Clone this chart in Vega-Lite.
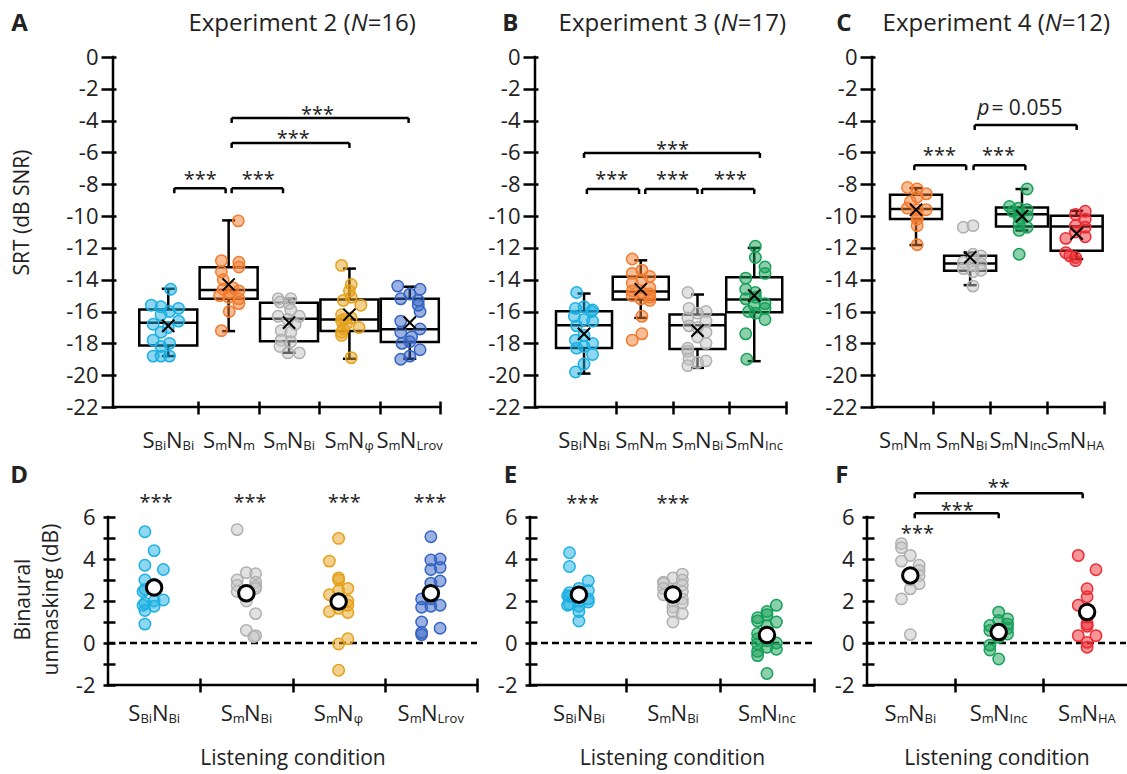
{
"$schema":"https://vega.github.io/schema/vega-lite/v6.json",
"background":"white",
"padding":{"left":10,"top":12,"right":0,"bottom":12},
"config":{"font":"Open Sans","view":{"stroke":null}},
"datasets":{
"one":[{}],
"box":[
{"p":"A","k":"SBiNBi","x":1,"lo":-18.8,"q1":-18.13,"md":-16.7,"q3":-15.87,"hi":-14.57,"mn":-16.9},
{"p":"A","k":"SmNm","x":2,"lo":-17.23,"q1":-15.2,"md":-14.65,"q3":-13.21,"hi":-10.27,"mn":-14.3},
{"p":"A","k":"SmNBi","x":3,"lo":-18.59,"q1":-17.86,"md":-16.45,"q3":-15.45,"hi":-15.2,"mn":-16.7},
{"p":"A","k":"SmNphi","x":4,"lo":-18.97,"q1":-17.23,"md":-16.5,"q3":-15.24,"hi":-13.3,"mn":-16.2},
{"p":"A","k":"SmNLrov","x":5,"lo":-18.97,"q1":-17.92,"md":-17.12,"q3":-15.2,"hi":-14.44,"mn":-16.7},
{"p":"B","k":"SBiNBi","x":1,"lo":-19.9,"q1":-18.29,"md":-16.86,"q3":-15.98,"hi":-14.87,"mn":-17.4},
{"p":"B","k":"SmNm","x":2,"lo":-16.4,"q1":-15.25,"md":-14.74,"q3":-13.82,"hi":-12.78,"mn":-14.6},
{"p":"B","k":"SmNBi","x":3,"lo":-19.54,"q1":-18.35,"md":-16.86,"q3":-16.19,"hi":-14.93,"mn":-17.2},
{"p":"B","k":"SmNInc","x":4,"lo":-19.12,"q1":-16.04,"md":-15.25,"q3":-13.84,"hi":-12.0,"mn":-15.0},
{"p":"C","k":"SmNm","x":1.2,"lo":-11.82,"q1":-10.19,"md":-9.56,"q3":-8.66,"hi":-8.24,"mn":-9.6},
{"p":"C","k":"SmNBi","x":2.15,"lo":-14.34,"q1":-13.44,"md":-12.98,"q3":-12.5,"hi":-12.3,"mn":-12.6},
{"p":"C","k":"SmNInc","x":3.06,"lo":-10.9,"q1":-10.65,"md":-9.88,"q3":-9.46,"hi":-8.3,"mn":-10.0},
{"p":"C","k":"SmNHA","x":4.02,"lo":-12.7,"q1":-12.18,"md":-10.65,"q3":-9.98,"hi":-9.67,"mn":-11.1}
],
"pts":[
{"p":"A","k":"SBiNBi","x":1.04,"v":-14.6},{"p":"A","k":"SBiNBi","x":0.72,"v":-15.6},{"p":"A","k":"SBiNBi","x":0.88,"v":-15.7},{"p":"A","k":"SBiNBi","x":1.17,"v":-15.8},{"p":"A","k":"SBiNBi","x":1.02,"v":-16.0},{"p":"A","k":"SBiNBi","x":0.88,"v":-16.2},{"p":"A","k":"SBiNBi","x":1.17,"v":-16.6},{"p":"A","k":"SBiNBi","x":0.75,"v":-16.8},{"p":"A","k":"SBiNBi","x":1.0,"v":-17.0},{"p":"A","k":"SBiNBi","x":0.88,"v":-17.3},{"p":"A","k":"SBiNBi","x":0.75,"v":-17.8},{"p":"A","k":"SBiNBi","x":1.02,"v":-18.0},{"p":"A","k":"SBiNBi","x":0.88,"v":-18.2},{"p":"A","k":"SBiNBi","x":0.75,"v":-18.8},{"p":"A","k":"SBiNBi","x":0.88,"v":-18.8},{"p":"A","k":"SBiNBi","x":1.02,"v":-18.8},
{"p":"A","k":"SmNm","x":2.16,"v":-10.3},{"p":"A","k":"SmNm","x":1.88,"v":-12.8},{"p":"A","k":"SmNm","x":2.17,"v":-12.9},{"p":"A","k":"SmNm","x":2.17,"v":-13.2},{"p":"A","k":"SmNm","x":1.88,"v":-13.5},{"p":"A","k":"SmNm","x":1.91,"v":-14.0},{"p":"A","k":"SmNm","x":2.07,"v":-14.5},{"p":"A","k":"SmNm","x":1.91,"v":-14.6},{"p":"A","k":"SmNm","x":2.17,"v":-14.7},{"p":"A","k":"SmNm","x":2.01,"v":-14.8},{"p":"A","k":"SmNm","x":1.85,"v":-15.0},{"p":"A","k":"SmNm","x":2.0,"v":-15.1},{"p":"A","k":"SmNm","x":2.17,"v":-15.2},{"p":"A","k":"SmNm","x":2.17,"v":-15.5},{"p":"A","k":"SmNm","x":2.01,"v":-16.0},{"p":"A","k":"SmNm","x":1.88,"v":-17.2},
{"p":"A","k":"SmNBi","x":2.82,"v":-15.2},{"p":"A","k":"SmNBi","x":3.03,"v":-15.2},{"p":"A","k":"SmNBi","x":2.85,"v":-15.4},{"p":"A","k":"SmNBi","x":3.0,"v":-15.5},{"p":"A","k":"SmNBi","x":3.03,"v":-15.9},{"p":"A","k":"SmNBi","x":2.82,"v":-16.3},{"p":"A","k":"SmNBi","x":3.17,"v":-16.3},{"p":"A","k":"SmNBi","x":2.98,"v":-16.5},{"p":"A","k":"SmNBi","x":3.1,"v":-16.8},{"p":"A","k":"SmNBi","x":2.87,"v":-17.2},{"p":"A","k":"SmNBi","x":3.03,"v":-17.3},{"p":"A","k":"SmNBi","x":2.87,"v":-17.8},{"p":"A","k":"SmNBi","x":3.03,"v":-17.9},{"p":"A","k":"SmNBi","x":2.85,"v":-18.2},{"p":"A","k":"SmNBi","x":2.98,"v":-18.6},{"p":"A","k":"SmNBi","x":3.17,"v":-18.6},
{"p":"A","k":"SmNphi","x":3.87,"v":-13.1},{"p":"A","k":"SmNphi","x":4.03,"v":-14.3},{"p":"A","k":"SmNphi","x":4.0,"v":-14.7},{"p":"A","k":"SmNphi","x":4.03,"v":-15.1},{"p":"A","k":"SmNphi","x":3.9,"v":-15.3},{"p":"A","k":"SmNphi","x":4.19,"v":-15.6},{"p":"A","k":"SmNphi","x":3.87,"v":-16.2},{"p":"A","k":"SmNphi","x":4.03,"v":-16.4},{"p":"A","k":"SmNphi","x":3.9,"v":-16.5},{"p":"A","k":"SmNphi","x":3.87,"v":-16.6},{"p":"A","k":"SmNphi","x":3.95,"v":-16.8},{"p":"A","k":"SmNphi","x":4.16,"v":-17.0},{"p":"A","k":"SmNphi","x":3.9,"v":-17.1},{"p":"A","k":"SmNphi","x":3.87,"v":-17.3},{"p":"A","k":"SmNphi","x":3.87,"v":-17.5},{"p":"A","k":"SmNphi","x":4.03,"v":-18.9},
{"p":"A","k":"SmNLrov","x":4.8,"v":-14.4},{"p":"A","k":"SmNLrov","x":5.17,"v":-14.6},{"p":"A","k":"SmNLrov","x":5.0,"v":-14.9},{"p":"A","k":"SmNLrov","x":4.85,"v":-15.2},{"p":"A","k":"SmNLrov","x":5.14,"v":-15.3},{"p":"A","k":"SmNLrov","x":5.14,"v":-15.6},{"p":"A","k":"SmNLrov","x":5.17,"v":-16.0},{"p":"A","k":"SmNLrov","x":4.85,"v":-16.6},{"p":"A","k":"SmNLrov","x":5.17,"v":-17.1},{"p":"A","k":"SmNLrov","x":4.85,"v":-17.3},{"p":"A","k":"SmNLrov","x":5.03,"v":-17.6},{"p":"A","k":"SmNLrov","x":5.0,"v":-17.9},{"p":"A","k":"SmNLrov","x":4.87,"v":-18.0},{"p":"A","k":"SmNLrov","x":5.17,"v":-18.4},{"p":"A","k":"SmNLrov","x":5.0,"v":-18.8},{"p":"A","k":"SmNLrov","x":4.85,"v":-19.0},
{"p":"B","k":"SBiNBi","x":0.87,"v":-14.8},{"p":"B","k":"SBiNBi","x":1.0,"v":-15.7},{"p":"B","k":"SBiNBi","x":0.85,"v":-15.8},{"p":"B","k":"SBiNBi","x":1.15,"v":-15.9},{"p":"B","k":"SBiNBi","x":1.13,"v":-16.0},{"p":"B","k":"SBiNBi","x":0.83,"v":-16.3},{"p":"B","k":"SBiNBi","x":1.0,"v":-16.5},{"p":"B","k":"SBiNBi","x":1.15,"v":-16.6},{"p":"B","k":"SBiNBi","x":0.87,"v":-16.9},{"p":"B","k":"SBiNBi","x":1.0,"v":-17.5},{"p":"B","k":"SBiNBi","x":0.85,"v":-17.8},{"p":"B","k":"SBiNBi","x":1.15,"v":-18.0},{"p":"B","k":"SBiNBi","x":1.0,"v":-18.2},{"p":"B","k":"SBiNBi","x":0.87,"v":-18.3},{"p":"B","k":"SBiNBi","x":1.15,"v":-18.7},{"p":"B","k":"SBiNBi","x":1.0,"v":-19.3},{"p":"B","k":"SBiNBi","x":0.85,"v":-19.8},
{"p":"B","k":"SmNm","x":1.85,"v":-12.7},{"p":"B","k":"SmNm","x":2.02,"v":-13.4},{"p":"B","k":"SmNm","x":1.85,"v":-13.6},{"p":"B","k":"SmNm","x":2.16,"v":-13.8},{"p":"B","k":"SmNm","x":2.02,"v":-14.0},{"p":"B","k":"SmNm","x":1.85,"v":-14.2},{"p":"B","k":"SmNm","x":2.16,"v":-14.5},{"p":"B","k":"SmNm","x":1.85,"v":-14.7},{"p":"B","k":"SmNm","x":2.02,"v":-14.8},{"p":"B","k":"SmNm","x":2.16,"v":-14.9},{"p":"B","k":"SmNm","x":1.85,"v":-15.0},{"p":"B","k":"SmNm","x":2.16,"v":-15.1},{"p":"B","k":"SmNm","x":2.0,"v":-15.2},{"p":"B","k":"SmNm","x":2.16,"v":-15.3},{"p":"B","k":"SmNm","x":2.02,"v":-16.3},{"p":"B","k":"SmNm","x":2.02,"v":-17.4},{"p":"B","k":"SmNm","x":1.85,"v":-17.8},
{"p":"B","k":"SmNBi","x":2.83,"v":-14.8},{"p":"B","k":"SmNBi","x":2.85,"v":-15.8},{"p":"B","k":"SmNBi","x":3.15,"v":-16.0},{"p":"B","k":"SmNBi","x":3.0,"v":-16.1},{"p":"B","k":"SmNBi","x":2.83,"v":-16.4},{"p":"B","k":"SmNBi","x":3.15,"v":-16.6},{"p":"B","k":"SmNBi","x":2.85,"v":-16.9},{"p":"B","k":"SmNBi","x":3.0,"v":-17.0},{"p":"B","k":"SmNBi","x":3.15,"v":-17.3},{"p":"B","k":"SmNBi","x":3.0,"v":-17.6},{"p":"B","k":"SmNBi","x":3.15,"v":-18.0},{"p":"B","k":"SmNBi","x":2.83,"v":-18.3},{"p":"B","k":"SmNBi","x":2.83,"v":-18.5},{"p":"B","k":"SmNBi","x":2.85,"v":-19.0},{"p":"B","k":"SmNBi","x":3.15,"v":-19.1},{"p":"B","k":"SmNBi","x":3.0,"v":-19.2},{"p":"B","k":"SmNBi","x":2.83,"v":-19.4},
{"p":"B","k":"SmNInc","x":4.02,"v":-11.9},{"p":"B","k":"SmNInc","x":4.02,"v":-12.6},{"p":"B","k":"SmNInc","x":4.19,"v":-13.2},{"p":"B","k":"SmNInc","x":4.19,"v":-13.6},{"p":"B","k":"SmNInc","x":3.85,"v":-13.9},{"p":"B","k":"SmNInc","x":3.85,"v":-14.6},{"p":"B","k":"SmNInc","x":4.02,"v":-14.8},{"p":"B","k":"SmNInc","x":4.02,"v":-15.1},{"p":"B","k":"SmNInc","x":3.85,"v":-15.2},{"p":"B","k":"SmNInc","x":4.19,"v":-15.5},{"p":"B","k":"SmNInc","x":4.0,"v":-15.6},{"p":"B","k":"SmNInc","x":4.19,"v":-15.8},{"p":"B","k":"SmNInc","x":3.9,"v":-16.0},{"p":"B","k":"SmNInc","x":4.02,"v":-16.1},{"p":"B","k":"SmNInc","x":4.19,"v":-16.5},{"p":"B","k":"SmNInc","x":3.85,"v":-17.4},{"p":"B","k":"SmNInc","x":3.87,"v":-19.0},
{"p":"C","k":"SmNm","x":1.05,"v":-8.2},{"p":"C","k":"SmNm","x":1.22,"v":-8.3},{"p":"C","k":"SmNm","x":1.38,"v":-8.6},{"p":"C","k":"SmNm","x":1.22,"v":-8.8},{"p":"C","k":"SmNm","x":1.1,"v":-9.1},{"p":"C","k":"SmNm","x":1.05,"v":-9.5},{"p":"C","k":"SmNm","x":1.22,"v":-9.6},{"p":"C","k":"SmNm","x":1.38,"v":-9.6},{"p":"C","k":"SmNm","x":1.22,"v":-10.0},{"p":"C","k":"SmNm","x":1.22,"v":-10.2},{"p":"C","k":"SmNm","x":1.22,"v":-10.6},{"p":"C","k":"SmNm","x":1.22,"v":-11.8},
{"p":"C","k":"SmNBi","x":2.03,"v":-10.7},{"p":"C","k":"SmNBi","x":2.2,"v":-10.6},{"p":"C","k":"SmNBi","x":2.2,"v":-12.4},{"p":"C","k":"SmNBi","x":2.34,"v":-12.5},{"p":"C","k":"SmNBi","x":2.2,"v":-12.7},{"p":"C","k":"SmNBi","x":2.03,"v":-12.9},{"p":"C","k":"SmNBi","x":2.34,"v":-13.0},{"p":"C","k":"SmNBi","x":2.2,"v":-13.1},{"p":"C","k":"SmNBi","x":2.03,"v":-13.3},{"p":"C","k":"SmNBi","x":2.34,"v":-13.4},{"p":"C","k":"SmNBi","x":2.2,"v":-13.5},{"p":"C","k":"SmNBi","x":2.2,"v":-14.4},
{"p":"C","k":"SmNInc","x":3.15,"v":-8.3},{"p":"C","k":"SmNInc","x":2.84,"v":-9.4},{"p":"C","k":"SmNInc","x":3.0,"v":-9.5},{"p":"C","k":"SmNInc","x":3.15,"v":-9.6},{"p":"C","k":"SmNInc","x":2.9,"v":-9.7},{"p":"C","k":"SmNInc","x":3.01,"v":-9.9},{"p":"C","k":"SmNInc","x":3.15,"v":-10.0},{"p":"C","k":"SmNInc","x":3.01,"v":-10.1},{"p":"C","k":"SmNInc","x":3.01,"v":-10.5},{"p":"C","k":"SmNInc","x":3.15,"v":-10.7},{"p":"C","k":"SmNInc","x":3.01,"v":-10.9},{"p":"C","k":"SmNInc","x":3.01,"v":-12.4},
{"p":"C","k":"SmNHA","x":4.17,"v":-9.7},{"p":"C","k":"SmNHA","x":4.0,"v":-9.9},{"p":"C","k":"SmNHA","x":4.17,"v":-10.2},{"p":"C","k":"SmNHA","x":4.0,"v":-10.6},{"p":"C","k":"SmNHA","x":4.17,"v":-10.7},{"p":"C","k":"SmNHA","x":4.0,"v":-11.0},{"p":"C","k":"SmNHA","x":4.17,"v":-11.3},{"p":"C","k":"SmNHA","x":3.83,"v":-11.4},{"p":"C","k":"SmNHA","x":3.83,"v":-12.3},{"p":"C","k":"SmNHA","x":3.9,"v":-12.5},{"p":"C","k":"SmNHA","x":4.0,"v":-12.6},{"p":"C","k":"SmNHA","x":4.0,"v":-12.8}
],
"bm":[
{"p":"D","k":"SBiNBi","c":1,"x":0.9,"v":5.3},{"p":"D","k":"SBiNBi","c":1,"x":1.0,"v":4.4},{"p":"D","k":"SBiNBi","c":1,"x":0.9,"v":3.7},{"p":"D","k":"SBiNBi","c":1,"x":1.1,"v":3.5},{"p":"D","k":"SBiNBi","c":1,"x":0.9,"v":3.0},{"p":"D","k":"SBiNBi","c":1,"x":1.0,"v":2.8},{"p":"D","k":"SBiNBi","c":1,"x":0.9,"v":2.55},{"p":"D","k":"SBiNBi","c":1,"x":0.88,"v":2.45},{"p":"D","k":"SBiNBi","c":1,"x":1.1,"v":2.05},{"p":"D","k":"SBiNBi","c":1,"x":1.0,"v":2.0},{"p":"D","k":"SBiNBi","c":1,"x":0.9,"v":1.9},{"p":"D","k":"SBiNBi","c":1,"x":0.88,"v":1.8},{"p":"D","k":"SBiNBi","c":1,"x":1.0,"v":1.75},{"p":"D","k":"SBiNBi","c":1,"x":0.9,"v":1.55},{"p":"D","k":"SBiNBi","c":1,"x":0.9,"v":0.9},{"p":"D","k":"SBiNBi","c":1,"x":1.0,"v":2.6},
{"p":"D","k":"SmNBi","c":2,"x":1.9,"v":5.4},{"p":"D","k":"SmNBi","c":2,"x":2.0,"v":3.35},{"p":"D","k":"SmNBi","c":2,"x":2.1,"v":3.3},{"p":"D","k":"SmNBi","c":2,"x":1.9,"v":3.0},{"p":"D","k":"SmNBi","c":2,"x":2.1,"v":2.9},{"p":"D","k":"SmNBi","c":2,"x":1.9,"v":2.75},{"p":"D","k":"SmNBi","c":2,"x":2.1,"v":2.7},{"p":"D","k":"SmNBi","c":2,"x":2.1,"v":2.6},{"p":"D","k":"SmNBi","c":2,"x":1.9,"v":2.45},{"p":"D","k":"SmNBi","c":2,"x":2.0,"v":2.3},{"p":"D","k":"SmNBi","c":2,"x":2.0,"v":2.0},{"p":"D","k":"SmNBi","c":2,"x":2.1,"v":1.4},{"p":"D","k":"SmNBi","c":2,"x":2.0,"v":0.6},{"p":"D","k":"SmNBi","c":2,"x":2.1,"v":0.35},{"p":"D","k":"SmNBi","c":2,"x":2.08,"v":0.3},{"p":"D","k":"SmNBi","c":2,"x":2.0,"v":2.5},
{"p":"D","k":"SmNphi","c":3,"x":3.0,"v":4.98},{"p":"D","k":"SmNphi","c":3,"x":2.9,"v":3.9},{"p":"D","k":"SmNphi","c":3,"x":3.0,"v":3.1},{"p":"D","k":"SmNphi","c":3,"x":3.0,"v":3.0},{"p":"D","k":"SmNphi","c":3,"x":3.1,"v":2.6},{"p":"D","k":"SmNphi","c":3,"x":3.0,"v":2.5},{"p":"D","k":"SmNphi","c":3,"x":2.9,"v":2.3},{"p":"D","k":"SmNphi","c":3,"x":3.1,"v":2.0},{"p":"D","k":"SmNphi","c":3,"x":3.0,"v":1.9},{"p":"D","k":"SmNphi","c":3,"x":3.1,"v":1.8},{"p":"D","k":"SmNphi","c":3,"x":3.0,"v":1.65},{"p":"D","k":"SmNphi","c":3,"x":3.1,"v":1.45},{"p":"D","k":"SmNphi","c":3,"x":2.9,"v":1.5},{"p":"D","k":"SmNphi","c":3,"x":3.1,"v":0.2},{"p":"D","k":"SmNphi","c":3,"x":3.0,"v":-0.05},{"p":"D","k":"SmNphi","c":3,"x":3.0,"v":-1.3},
{"p":"D","k":"SmNLrov","c":4,"x":4.0,"v":5.06},{"p":"D","k":"SmNLrov","c":4,"x":4.1,"v":4.0},{"p":"D","k":"SmNLrov","c":4,"x":4.0,"v":3.95},{"p":"D","k":"SmNLrov","c":4,"x":4.1,"v":3.6},{"p":"D","k":"SmNLrov","c":4,"x":4.0,"v":3.5},{"p":"D","k":"SmNLrov","c":4,"x":4.1,"v":2.95},{"p":"D","k":"SmNLrov","c":4,"x":4.0,"v":2.85},{"p":"D","k":"SmNLrov","c":4,"x":3.9,"v":2.1},{"p":"D","k":"SmNLrov","c":4,"x":4.0,"v":2.1},{"p":"D","k":"SmNLrov","c":4,"x":4.1,"v":1.8},{"p":"D","k":"SmNLrov","c":4,"x":4.0,"v":1.75},{"p":"D","k":"SmNLrov","c":4,"x":3.9,"v":1.7},{"p":"D","k":"SmNLrov","c":4,"x":3.9,"v":1.0},{"p":"D","k":"SmNLrov","c":4,"x":4.1,"v":0.7},{"p":"D","k":"SmNLrov","c":4,"x":3.9,"v":0.5},{"p":"D","k":"SmNLrov","c":4,"x":3.9,"v":0.4},
{"p":"E","k":"SBiNBi","c":1,"x":0.9,"v":4.3},{"p":"E","k":"SBiNBi","c":1,"x":0.9,"v":3.64},{"p":"E","k":"SBiNBi","c":1,"x":1.1,"v":2.96},{"p":"E","k":"SBiNBi","c":1,"x":1.0,"v":2.6},{"p":"E","k":"SBiNBi","c":1,"x":1.1,"v":2.5},{"p":"E","k":"SBiNBi","c":1,"x":0.9,"v":2.4},{"p":"E","k":"SBiNBi","c":1,"x":1.0,"v":2.3},{"p":"E","k":"SBiNBi","c":1,"x":0.88,"v":2.25},{"p":"E","k":"SBiNBi","c":1,"x":0.9,"v":2.2},{"p":"E","k":"SBiNBi","c":1,"x":1.1,"v":2.1},{"p":"E","k":"SBiNBi","c":1,"x":1.0,"v":2.0},{"p":"E","k":"SBiNBi","c":1,"x":1.1,"v":1.95},{"p":"E","k":"SBiNBi","c":1,"x":0.9,"v":1.85},{"p":"E","k":"SBiNBi","c":1,"x":0.88,"v":1.8},{"p":"E","k":"SBiNBi","c":1,"x":1.0,"v":1.75},{"p":"E","k":"SBiNBi","c":1,"x":1.0,"v":1.5},{"p":"E","k":"SBiNBi","c":1,"x":1.0,"v":1.05},
{"p":"E","k":"SmNBi","c":2,"x":2.1,"v":3.28},{"p":"E","k":"SmNBi","c":2,"x":2.0,"v":3.1},{"p":"E","k":"SmNBi","c":2,"x":2.1,"v":3.0},{"p":"E","k":"SmNBi","c":2,"x":1.9,"v":2.9},{"p":"E","k":"SmNBi","c":2,"x":1.9,"v":2.85},{"p":"E","k":"SmNBi","c":2,"x":2.1,"v":2.75},{"p":"E","k":"SmNBi","c":2,"x":1.9,"v":2.6},{"p":"E","k":"SmNBi","c":2,"x":2.0,"v":2.5},{"p":"E","k":"SmNBi","c":2,"x":2.1,"v":2.45},{"p":"E","k":"SmNBi","c":2,"x":1.9,"v":2.3},{"p":"E","k":"SmNBi","c":2,"x":2.1,"v":2.1},{"p":"E","k":"SmNBi","c":2,"x":2.0,"v":2.0},{"p":"E","k":"SmNBi","c":2,"x":2.1,"v":1.9},{"p":"E","k":"SmNBi","c":2,"x":2.0,"v":1.7},{"p":"E","k":"SmNBi","c":2,"x":2.0,"v":1.5},{"p":"E","k":"SmNBi","c":2,"x":2.1,"v":1.4},{"p":"E","k":"SmNBi","c":2,"x":2.0,"v":1.0},
{"p":"E","k":"SmNInc","c":3,"x":3.1,"v":1.8},{"p":"E","k":"SmNInc","c":3,"x":3.0,"v":1.5},{"p":"E","k":"SmNInc","c":3,"x":3.0,"v":1.35},{"p":"E","k":"SmNInc","c":3,"x":2.9,"v":1.2},{"p":"E","k":"SmNInc","c":3,"x":2.9,"v":1.05},{"p":"E","k":"SmNInc","c":3,"x":3.1,"v":1.0},{"p":"E","k":"SmNInc","c":3,"x":3.0,"v":0.8},{"p":"E","k":"SmNInc","c":3,"x":2.9,"v":0.45},{"p":"E","k":"SmNInc","c":3,"x":2.9,"v":0.2},{"p":"E","k":"SmNInc","c":3,"x":3.0,"v":0.1},{"p":"E","k":"SmNInc","c":3,"x":3.1,"v":0.0},{"p":"E","k":"SmNInc","c":3,"x":2.9,"v":-0.05},{"p":"E","k":"SmNInc","c":3,"x":3.0,"v":-0.2},{"p":"E","k":"SmNInc","c":3,"x":3.1,"v":-0.3},{"p":"E","k":"SmNInc","c":3,"x":2.9,"v":-0.4},{"p":"E","k":"SmNInc","c":3,"x":2.9,"v":-0.6},{"p":"E","k":"SmNInc","c":3,"x":3.0,"v":-1.45},
{"p":"F","k":"SmNBi","c":1,"x":0.9,"v":4.73},{"p":"F","k":"SmNBi","c":1,"x":0.9,"v":4.54},{"p":"F","k":"SmNBi","c":1,"x":1.0,"v":4.17},{"p":"F","k":"SmNBi","c":1,"x":0.9,"v":3.9},{"p":"F","k":"SmNBi","c":1,"x":1.1,"v":3.7},{"p":"F","k":"SmNBi","c":1,"x":1.1,"v":3.46},{"p":"F","k":"SmNBi","c":1,"x":1.0,"v":3.0},{"p":"F","k":"SmNBi","c":1,"x":1.1,"v":3.2},{"p":"F","k":"SmNBi","c":1,"x":1.1,"v":2.82},{"p":"F","k":"SmNBi","c":1,"x":1.0,"v":2.58},{"p":"F","k":"SmNBi","c":1,"x":0.9,"v":2.1},{"p":"F","k":"SmNBi","c":1,"x":1.0,"v":0.4},
{"p":"F","k":"SmNInc","c":2,"x":2.0,"v":1.47},{"p":"F","k":"SmNInc","c":2,"x":2.1,"v":1.15},{"p":"F","k":"SmNInc","c":2,"x":2.0,"v":1.07},{"p":"F","k":"SmNInc","c":2,"x":2.1,"v":0.9},{"p":"F","k":"SmNInc","c":2,"x":1.9,"v":0.83},{"p":"F","k":"SmNInc","c":2,"x":2.1,"v":0.7},{"p":"F","k":"SmNInc","c":2,"x":1.9,"v":0.6},{"p":"F","k":"SmNInc","c":2,"x":2.1,"v":0.43},{"p":"F","k":"SmNInc","c":2,"x":2.0,"v":0.27},{"p":"F","k":"SmNInc","c":2,"x":1.9,"v":-0.1},{"p":"F","k":"SmNInc","c":2,"x":1.9,"v":-0.33},{"p":"F","k":"SmNInc","c":2,"x":2.0,"v":-0.76},
{"p":"F","k":"SmNHA","c":3,"x":2.9,"v":4.17},{"p":"F","k":"SmNHA","c":3,"x":3.1,"v":3.49},{"p":"F","k":"SmNHA","c":3,"x":3.0,"v":2.58},{"p":"F","k":"SmNHA","c":3,"x":3.0,"v":2.2},{"p":"F","k":"SmNHA","c":3,"x":2.9,"v":1.8},{"p":"F","k":"SmNHA","c":3,"x":3.0,"v":1.23},{"p":"F","k":"SmNHA","c":3,"x":3.0,"v":0.9},{"p":"F","k":"SmNHA","c":3,"x":3.0,"v":0.8},{"p":"F","k":"SmNHA","c":3,"x":2.9,"v":0.35},{"p":"F","k":"SmNHA","c":3,"x":3.1,"v":0.35},{"p":"F","k":"SmNHA","c":3,"x":3.0,"v":0.03},{"p":"F","k":"SmNHA","c":3,"x":3.0,"v":-0.2}
],
"br":[
{"p":"A","x1":1.1,"x2":1.95,"y":-8.25},{"p":"A","x1":2.05,"x2":2.9,"y":-8.25},{"p":"A","x1":2.05,"x2":4.0,"y":-5.4},{"p":"A","x1":2.05,"x2":4.98,"y":-3.83},
{"p":"B","x1":1.0,"x2":4.1,"y":-6.03},{"p":"B","x1":1.05,"x2":1.97,"y":-8.3},{"p":"B","x1":2.08,"x2":3.0,"y":-8.3},{"p":"B","x1":3.08,"x2":4.0,"y":-8.3},
{"p":"C","x1":1.17,"x2":2.08,"y":-6.8},{"p":"C","x1":2.21,"x2":3.12,"y":-6.8},{"p":"C","x1":2.23,"x2":4.02,"y":-4.27},
{"p":"F","x1":1.05,"x2":2.95,"y":7.13},{"p":"F","x1":1.05,"x2":2.0,"y":6.18}
],
"st":[
{"p":"A","x":1.53,"y":-8.1,"t":"***"},{"p":"A","x":2.49,"y":-8.1,"t":"***"},{"p":"A","x":3.07,"y":-5.55,"t":"***"},{"p":"A","x":3.47,"y":-4.03,"t":"***"},
{"p":"B","x":2.56,"y":-6.2,"t":"***"},{"p":"B","x":1.49,"y":-8.08,"t":"***"},{"p":"B","x":2.56,"y":-8.08,"t":"***"},{"p":"B","x":3.58,"y":-8.08,"t":"***"},
{"p":"C","x":1.61,"y":-6.62,"t":"***"},{"p":"C","x":2.65,"y":-6.62,"t":"***"},
{"p":"D","x":1.02,"y":6.39,"t":"***"},{"p":"D","x":2.04,"y":6.39,"t":"***"},{"p":"D","x":3.06,"y":6.39,"t":"***"},{"p":"D","x":3.99,"y":6.39,"t":"***"},
{"p":"E","x":1.04,"y":6.34,"t":"***"},{"p":"E","x":2.0,"y":6.34,"t":"***"},
{"p":"F","x":2.0,"y":7.1,"t":"**"},{"p":"F","x":1.53,"y":6.0,"t":"***"},{"p":"F","x":1.08,"y":4.91,"t":"***"}
],
"pv":[{"p":"C","x":3.12,"y":-3.63,"a":"p","b":"\u00a0= 0.055"}],
"labs":[
{"p":"A","c":1,"s1":"Bi","s2":"Bi"},{"p":"A","c":2,"s1":"m","s2":"m"},{"p":"A","c":3,"s1":"m","s2":"Bi"},{"p":"A","c":4,"s1":"m","s2":"φ"},{"p":"A","c":5,"s1":"m","s2":"Lrov"},
{"p":"B","c":1,"s1":"Bi","s2":"Bi"},{"p":"B","c":2,"s1":"m","s2":"m"},{"p":"B","c":3,"s1":"m","s2":"Bi"},{"p":"B","c":4,"s1":"m","s2":"Inc"},
{"p":"C","c":1,"s1":"m","s2":"m"},{"p":"C","c":2,"s1":"m","s2":"Bi"},{"p":"C","c":3,"s1":"m","s2":"Inc"},{"p":"C","c":4,"s1":"m","s2":"HA"},
{"p":"D","c":1,"s1":"Bi","s2":"Bi"},{"p":"D","c":2,"s1":"m","s2":"Bi"},{"p":"D","c":3,"s1":"m","s2":"φ"},{"p":"D","c":4,"s1":"m","s2":"Lrov"},
{"p":"E","c":1,"s1":"Bi","s2":"Bi"},{"p":"E","c":2,"s1":"m","s2":"Bi"},{"p":"E","c":3,"s1":"m","s2":"Inc"},
{"p":"F","c":1,"s1":"m","s2":"Bi"},{"p":"F","c":2,"s1":"m","s2":"Inc"},{"p":"F","c":3,"s1":"m","s2":"HA"}
],
"hdr":[
{"p":"A","l":"A","pre":"Experiment 2 (","n":"N","post":"=16)"},
{"p":"B","l":"B","pre":"Experiment 3 (","n":"N","post":"=17)"},
{"p":"C","l":"C","pre":"Experiment 4 (","n":"N","post":"=12)"},
{"p":"D","l":"D"},{"p":"E","l":"E"},{"p":"F","l":"F"}
]
},
"columns":3,
"align":"each",
"spacing":{"row":10,"column":8},
"concat":[
{"width":337,"height":350,"layer":[
{"data":{"name":"one"},"mark":{"type":"rule","color":"black","strokeWidth":2.5,"strokeCap":"square"},"encoding":{"x":{"datum":0.085,"type":"quantitative","scale":{"domain":[0.085,5.5],"nice":false,"zero":false},"axis":{"values":[1.5,2.5,3.5,4.5,5.5],"tickCount":30,"labels":false,"domain":false,"grid":false,"tickSize":13,"offset":-6,"tickWidth":2.5,"tickColor":"black","title":null}},"x2":{"datum":5.5},"y":{"datum":-22,"type":"quantitative","scale":{"domain":[-22,0],"nice":false,"zero":false},"axis":{"values":[0,-2,-4,-6,-8,-10,-12,-14,-16,-18,-20,-22],"tickCount":30,"labelExpr":"toString(datum.value)","labelOverlap":false,"domain":false,"grid":false,"tickSize":15,"offset":-8,"tickWidth":2.5,"tickColor":"black","labelFontSize":22,"labelPadding":3,"labelColor":"#222","title":"SRT (dB SNR)","titleFontSize":21,"titleFontWeight":"normal","titleColor":"#222","titleX":-94,"titleY":155,"titleAngle":-90,"titleBaseline":"middle","titleAlign":"center"}}}},
{"data":{"name":"one"},"mark":{"type":"rule","color":"black","strokeWidth":2.5,"strokeCap":"square"},"encoding":{"x":{"datum":0.085,"type":"quantitative"},"y":{"datum":-22,"type":"quantitative"},"y2":{"datum":0}}},
{"data":{"name":"box"},"transform":[{"filter":"datum.p=='A'"}],"mark":{"type":"rule","color":"black","strokeWidth":2.5},"encoding":{"x":{"field":"x","type":"quantitative"},"y":{"field":"lo","type":"quantitative"},"y2":{"field":"hi"}}},
{"data":{"name":"box"},"transform":[{"filter":"datum.p=='A'"}],"mark":{"type":"bar","width":58,"fill":"white","stroke":"black","strokeWidth":2.5},"encoding":{"x":{"field":"x","type":"quantitative"},"y":{"field":"q1","type":"quantitative"},"y2":{"field":"q3"}}},
{"data":{"name":"box"},"transform":[{"filter":"datum.p=='A'"}],"mark":{"type":"tick","orient":"horizontal","size":58,"thickness":2.5,"color":"black","opacity":1},"encoding":{"x":{"field":"x","type":"quantitative"},"y":{"field":"md","type":"quantitative"}}},
{"data":{"name":"box"},"transform":[{"filter":"datum.p=='A'"}],"mark":{"type":"tick","orient":"horizontal","size":13,"thickness":2.5,"color":"black","opacity":1},"encoding":{"x":{"field":"x","type":"quantitative"},"y":{"field":"hi","type":"quantitative"}}},
{"data":{"name":"box"},"transform":[{"filter":"datum.p=='A'"}],"mark":{"type":"tick","orient":"horizontal","size":13,"thickness":2.5,"color":"black","opacity":1},"encoding":{"x":{"field":"x","type":"quantitative"},"y":{"field":"lo","type":"quantitative"}}},
{"data":{"name":"pts"},"transform":[{"filter":"datum.p=='A'"}],"mark":{"type":"point","shape":"circle","filled":true,"size":130,"opacity":1,"fillOpacity":0.5,"strokeWidth":1.5},"encoding":{"x":{"field":"x","type":"quantitative"},"y":{"field":"v","type":"quantitative"},"fill":{"field":"k","type":"nominal","scale":{"domain":["SBiNBi","SmNm","SmNBi","SmNphi","SmNLrov","SmNInc","SmNHA"],"range":["#1cb0e3","#f37b2d","#c4c4c4","#e5a11b","#3564c3","#17a058","#ed2b32"]},"legend":null},"stroke":{"field":"k","type":"nominal","scale":{"domain":["SBiNBi","SmNm","SmNBi","SmNphi","SmNLrov","SmNInc","SmNHA"],"range":["#1cb0e3","#f37b2d","#b0b0b0","#e5a11b","#3564c3","#17a058","#ed2b32"]},"legend":null}}},
{"data":{"name":"box"},"transform":[{"filter":"datum.p=='A'"}],"mark":{"type":"point","shape":"M-1,-1L1,1M-1,1L1,-1","size":150,"filled":false,"color":"black","strokeWidth":2,"opacity":1},"encoding":{"x":{"field":"x","type":"quantitative"},"y":{"field":"mn","type":"quantitative"}}},
{"data":{"name":"br"},"transform":[{"filter":"datum.p=='A'"}],"mark":{"type":"rule","color":"black","strokeWidth":2.5},"encoding":{"x":{"field":"x1","type":"quantitative"},"x2":{"field":"x2"},"y":{"field":"y","type":"quantitative"}}},
{"data":{"name":"br"},"transform":[{"filter":"datum.p=='A'"}],"mark":{"type":"point","shape":"M0,0L0,1","size":100,"filled":false,"color":"black","strokeWidth":2.5,"opacity":1},"encoding":{"x":{"field":"x1","type":"quantitative"},"y":{"field":"y","type":"quantitative"}}},
{"data":{"name":"br"},"transform":[{"filter":"datum.p=='A'"}],"mark":{"type":"point","shape":"M0,0L0,1","size":100,"filled":false,"color":"black","strokeWidth":2.5,"opacity":1},"encoding":{"x":{"field":"x2","type":"quantitative"},"y":{"field":"y","type":"quantitative"}}},
{"data":{"name":"st"},"transform":[{"filter":"datum.p=='A'"}],"mark":{"type":"text","fontSize":20,"color":"#222","align":"center","baseline":"alphabetic"},"encoding":{"x":{"field":"x","type":"quantitative"},"y":{"field":"y","type":"quantitative"},"text":{"field":"t"}}},
{"data":{"name":"labs"},"transform":[{"filter":"datum.p=='A'"}],"mark":{"type":"text","text":"S","fontSize":22,"align":"left","baseline":"alphabetic","color":"#222","dy":41,"dx":{"expr":"-(28.7+(datum.s1=='Bi'?11.5:11.2)+(datum.s2=='Bi'?11.5:datum.s2=='m'?11.2:datum.s2=='φ'?9.8:datum.s2=='Lrov'?26.7:datum.s2=='Inc'?18.2:18.1))/2"}},"encoding":{"x":{"field":"c","type":"quantitative"},"y":{"datum":-22,"type":"quantitative"}}},
{"data":{"name":"labs"},"transform":[{"filter":"datum.p=='A'"}],"mark":{"type":"text","fontSize":13,"align":"left","baseline":"alphabetic","color":"#222","dy":43,"dx":{"expr":"12.1-(28.7+(datum.s1=='Bi'?11.5:11.2)+(datum.s2=='Bi'?11.5:datum.s2=='m'?11.2:datum.s2=='φ'?9.8:datum.s2=='Lrov'?26.7:datum.s2=='Inc'?18.2:18.1))/2"}},"encoding":{"x":{"field":"c","type":"quantitative"},"y":{"datum":-22,"type":"quantitative"},"text":{"field":"s1"}}},
{"data":{"name":"labs"},"transform":[{"filter":"datum.p=='A'"}],"mark":{"type":"text","text":"N","fontSize":22,"align":"left","baseline":"alphabetic","color":"#222","dy":41,"dx":{"expr":"12.1+(datum.s1=='Bi'?11.5:11.2)-(28.7+(datum.s1=='Bi'?11.5:11.2)+(datum.s2=='Bi'?11.5:datum.s2=='m'?11.2:datum.s2=='φ'?9.8:datum.s2=='Lrov'?26.7:datum.s2=='Inc'?18.2:18.1))/2"}},"encoding":{"x":{"field":"c","type":"quantitative"},"y":{"datum":-22,"type":"quantitative"}}},
{"data":{"name":"labs"},"transform":[{"filter":"datum.p=='A'"}],"mark":{"type":"text","fontSize":13,"align":"left","baseline":"alphabetic","color":"#222","dy":43,"dx":{"expr":"28.7+(datum.s1=='Bi'?11.5:11.2)-(28.7+(datum.s1=='Bi'?11.5:11.2)+(datum.s2=='Bi'?11.5:datum.s2=='m'?11.2:datum.s2=='φ'?9.8:datum.s2=='Lrov'?26.7:datum.s2=='Inc'?18.2:18.1))/2"}},"encoding":{"x":{"field":"c","type":"quantitative"},"y":{"datum":-22,"type":"quantitative"},"text":{"field":"s2"}}},
{"data":{"name":"hdr"},"transform":[{"filter":"datum.p=='A'"}],"mark":{"type":"text","fontSize":24,"fontWeight":"bold","align":"left","baseline":"alphabetic","color":"#222"},"encoding":{"x":{"datum":-1.6,"type":"quantitative"},"y":{"datum":1.63,"type":"quantitative"},"text":{"field":"l"}}},
{"data":{"name":"hdr"},"transform":[{"filter":"datum.p=='A'"}],"mark":{"type":"text","fontSize":24,"align":"right","baseline":"alphabetic","color":"#222"},"encoding":{"x":{"datum":4.02,"type":"quantitative"},"y":{"datum":1.63,"type":"quantitative"},"text":{"field":"pre"}}},
{"data":{"name":"hdr"},"transform":[{"filter":"datum.p=='A'"}],"mark":{"type":"text","fontSize":24,"fontStyle":"italic","align":"left","baseline":"alphabetic","color":"#222"},"encoding":{"x":{"datum":4.02,"type":"quantitative"},"y":{"datum":1.63,"type":"quantitative"},"text":{"field":"n"}}},
{"data":{"name":"hdr"},"transform":[{"filter":"datum.p=='A'"}],"mark":{"type":"text","fontSize":24,"align":"left","baseline":"alphabetic","color":"#222","dx":17},"encoding":{"x":{"datum":4.02,"type":"quantitative"},"y":{"datum":1.63,"type":"quantitative"},"text":{"field":"post"}}}
]},
{"width":261,"height":350,"layer":[
{"data":{"name":"one"},"mark":{"type":"rule","color":"black","strokeWidth":2.5,"strokeCap":"square"},"encoding":{"x":{"datum":0.136,"type":"quantitative","scale":{"domain":[0.136,4.56],"nice":false,"zero":false},"axis":{"values":[1.56,2.56,3.56,4.56],"tickCount":30,"labels":false,"domain":false,"grid":false,"tickSize":13,"offset":-6,"tickWidth":2.5,"tickColor":"black","title":null}},"x2":{"datum":4.56},"y":{"datum":-22,"type":"quantitative","scale":{"domain":[-22,0],"nice":false,"zero":false},"axis":{"values":[0,-2,-4,-6,-8,-10,-12,-14,-16,-18,-20,-22],"tickCount":30,"labelExpr":"toString(datum.value)","labelOverlap":false,"domain":false,"grid":false,"tickSize":15,"offset":-8,"tickWidth":2.5,"tickColor":"black","labelFontSize":22,"labelPadding":3,"labelColor":"#222","title":null}}}},
{"data":{"name":"one"},"mark":{"type":"rule","color":"black","strokeWidth":2.5,"strokeCap":"square"},"encoding":{"x":{"datum":0.136,"type":"quantitative"},"y":{"datum":-22,"type":"quantitative"},"y2":{"datum":0}}},
{"data":{"name":"box"},"transform":[{"filter":"datum.p=='B'"}],"mark":{"type":"rule","color":"black","strokeWidth":2.5},"encoding":{"x":{"field":"x","type":"quantitative"},"y":{"field":"lo","type":"quantitative"},"y2":{"field":"hi"}}},
{"data":{"name":"box"},"transform":[{"filter":"datum.p=='B'"}],"mark":{"type":"bar","width":56,"fill":"white","stroke":"black","strokeWidth":2.5},"encoding":{"x":{"field":"x","type":"quantitative"},"y":{"field":"q1","type":"quantitative"},"y2":{"field":"q3"}}},
{"data":{"name":"box"},"transform":[{"filter":"datum.p=='B'"}],"mark":{"type":"tick","orient":"horizontal","size":56,"thickness":2.5,"color":"black","opacity":1},"encoding":{"x":{"field":"x","type":"quantitative"},"y":{"field":"md","type":"quantitative"}}},
{"data":{"name":"box"},"transform":[{"filter":"datum.p=='B'"}],"mark":{"type":"tick","orient":"horizontal","size":13,"thickness":2.5,"color":"black","opacity":1},"encoding":{"x":{"field":"x","type":"quantitative"},"y":{"field":"hi","type":"quantitative"}}},
{"data":{"name":"box"},"transform":[{"filter":"datum.p=='B'"}],"mark":{"type":"tick","orient":"horizontal","size":13,"thickness":2.5,"color":"black","opacity":1},"encoding":{"x":{"field":"x","type":"quantitative"},"y":{"field":"lo","type":"quantitative"}}},
{"data":{"name":"pts"},"transform":[{"filter":"datum.p=='B'"}],"mark":{"type":"point","shape":"circle","filled":true,"size":130,"opacity":1,"fillOpacity":0.5,"strokeWidth":1.5},"encoding":{"x":{"field":"x","type":"quantitative"},"y":{"field":"v","type":"quantitative"},"fill":{"field":"k","type":"nominal","scale":{"domain":["SBiNBi","SmNm","SmNBi","SmNphi","SmNLrov","SmNInc","SmNHA"],"range":["#1cb0e3","#f37b2d","#c4c4c4","#e5a11b","#3564c3","#17a058","#ed2b32"]},"legend":null},"stroke":{"field":"k","type":"nominal","scale":{"domain":["SBiNBi","SmNm","SmNBi","SmNphi","SmNLrov","SmNInc","SmNHA"],"range":["#1cb0e3","#f37b2d","#b0b0b0","#e5a11b","#3564c3","#17a058","#ed2b32"]},"legend":null}}},
{"data":{"name":"box"},"transform":[{"filter":"datum.p=='B'"}],"mark":{"type":"point","shape":"M-1,-1L1,1M-1,1L1,-1","size":150,"filled":false,"color":"black","strokeWidth":2,"opacity":1},"encoding":{"x":{"field":"x","type":"quantitative"},"y":{"field":"mn","type":"quantitative"}}},
{"data":{"name":"br"},"transform":[{"filter":"datum.p=='B'"}],"mark":{"type":"rule","color":"black","strokeWidth":2.5},"encoding":{"x":{"field":"x1","type":"quantitative"},"x2":{"field":"x2"},"y":{"field":"y","type":"quantitative"}}},
{"data":{"name":"br"},"transform":[{"filter":"datum.p=='B'"}],"mark":{"type":"point","shape":"M0,0L0,1","size":100,"filled":false,"color":"black","strokeWidth":2.5,"opacity":1},"encoding":{"x":{"field":"x1","type":"quantitative"},"y":{"field":"y","type":"quantitative"}}},
{"data":{"name":"br"},"transform":[{"filter":"datum.p=='B'"}],"mark":{"type":"point","shape":"M0,0L0,1","size":100,"filled":false,"color":"black","strokeWidth":2.5,"opacity":1},"encoding":{"x":{"field":"x2","type":"quantitative"},"y":{"field":"y","type":"quantitative"}}},
{"data":{"name":"st"},"transform":[{"filter":"datum.p=='B'"}],"mark":{"type":"text","fontSize":20,"color":"#222","align":"center","baseline":"alphabetic"},"encoding":{"x":{"field":"x","type":"quantitative"},"y":{"field":"y","type":"quantitative"},"text":{"field":"t"}}},
{"data":{"name":"labs"},"transform":[{"filter":"datum.p=='B'"}],"mark":{"type":"text","text":"S","fontSize":22,"align":"left","baseline":"alphabetic","color":"#222","dy":41,"dx":{"expr":"-(28.7+(datum.s1=='Bi'?11.5:11.2)+(datum.s2=='Bi'?11.5:datum.s2=='m'?11.2:datum.s2=='φ'?9.8:datum.s2=='Lrov'?26.7:datum.s2=='Inc'?18.2:18.1))/2"}},"encoding":{"x":{"field":"c","type":"quantitative"},"y":{"datum":-22,"type":"quantitative"}}},
{"data":{"name":"labs"},"transform":[{"filter":"datum.p=='B'"}],"mark":{"type":"text","fontSize":13,"align":"left","baseline":"alphabetic","color":"#222","dy":43,"dx":{"expr":"12.1-(28.7+(datum.s1=='Bi'?11.5:11.2)+(datum.s2=='Bi'?11.5:datum.s2=='m'?11.2:datum.s2=='φ'?9.8:datum.s2=='Lrov'?26.7:datum.s2=='Inc'?18.2:18.1))/2"}},"encoding":{"x":{"field":"c","type":"quantitative"},"y":{"datum":-22,"type":"quantitative"},"text":{"field":"s1"}}},
{"data":{"name":"labs"},"transform":[{"filter":"datum.p=='B'"}],"mark":{"type":"text","text":"N","fontSize":22,"align":"left","baseline":"alphabetic","color":"#222","dy":41,"dx":{"expr":"12.1+(datum.s1=='Bi'?11.5:11.2)-(28.7+(datum.s1=='Bi'?11.5:11.2)+(datum.s2=='Bi'?11.5:datum.s2=='m'?11.2:datum.s2=='φ'?9.8:datum.s2=='Lrov'?26.7:datum.s2=='Inc'?18.2:18.1))/2"}},"encoding":{"x":{"field":"c","type":"quantitative"},"y":{"datum":-22,"type":"quantitative"}}},
{"data":{"name":"labs"},"transform":[{"filter":"datum.p=='B'"}],"mark":{"type":"text","fontSize":13,"align":"left","baseline":"alphabetic","color":"#222","dy":43,"dx":{"expr":"28.7+(datum.s1=='Bi'?11.5:11.2)-(28.7+(datum.s1=='Bi'?11.5:11.2)+(datum.s2=='Bi'?11.5:datum.s2=='m'?11.2:datum.s2=='φ'?9.8:datum.s2=='Lrov'?26.7:datum.s2=='Inc'?18.2:18.1))/2"}},"encoding":{"x":{"field":"c","type":"quantitative"},"y":{"datum":-22,"type":"quantitative"},"text":{"field":"s2"}}},
{"data":{"name":"hdr"},"transform":[{"filter":"datum.p=='B'"}],"mark":{"type":"text","fontSize":24,"fontWeight":"bold","align":"left","baseline":"alphabetic","color":"#222"},"encoding":{"x":{"datum":-0.44,"type":"quantitative"},"y":{"datum":1.63,"type":"quantitative"},"text":{"field":"l"}}},
{"data":{"name":"hdr"},"transform":[{"filter":"datum.p=='B'"}],"mark":{"type":"text","fontSize":24,"align":"right","baseline":"alphabetic","color":"#222"},"encoding":{"x":{"datum":3.41,"type":"quantitative"},"y":{"datum":1.63,"type":"quantitative"},"text":{"field":"pre"}}},
{"data":{"name":"hdr"},"transform":[{"filter":"datum.p=='B'"}],"mark":{"type":"text","fontSize":24,"fontStyle":"italic","align":"left","baseline":"alphabetic","color":"#222"},"encoding":{"x":{"datum":3.41,"type":"quantitative"},"y":{"datum":1.63,"type":"quantitative"},"text":{"field":"n"}}},
{"data":{"name":"hdr"},"transform":[{"filter":"datum.p=='B'"}],"mark":{"type":"text","fontSize":24,"align":"left","baseline":"alphabetic","color":"#222","dx":17},"encoding":{"x":{"datum":3.41,"type":"quantitative"},"y":{"datum":1.63,"type":"quantitative"},"text":{"field":"post"}}}
]},
{"width":242,"height":350,"layer":[
{"data":{"name":"one"},"mark":{"type":"rule","color":"black","strokeWidth":2.5,"strokeCap":"square"},"encoding":{"x":{"datum":0.427,"type":"quantitative","scale":{"domain":[0.427,4.5],"nice":false,"zero":false},"axis":{"values":[1.5,2.5,3.5,4.5],"tickCount":30,"labels":false,"domain":false,"grid":false,"tickSize":13,"offset":-6,"tickWidth":2.5,"tickColor":"black","title":null}},"x2":{"datum":4.5},"y":{"datum":-22,"type":"quantitative","scale":{"domain":[-22,0],"nice":false,"zero":false},"axis":{"values":[0,-2,-4,-6,-8,-10,-12,-14,-16,-18,-20,-22],"tickCount":30,"labelExpr":"toString(datum.value)","labelOverlap":false,"domain":false,"grid":false,"tickSize":15,"offset":-8,"tickWidth":2.5,"tickColor":"black","labelFontSize":22,"labelPadding":3,"labelColor":"#222","title":null}}}},
{"data":{"name":"one"},"mark":{"type":"rule","color":"black","strokeWidth":2.5,"strokeCap":"square"},"encoding":{"x":{"datum":0.427,"type":"quantitative"},"y":{"datum":-22,"type":"quantitative"},"y2":{"datum":0}}},
{"data":{"name":"box"},"transform":[{"filter":"datum.p=='C'"}],"mark":{"type":"rule","color":"black","strokeWidth":2.5},"encoding":{"x":{"field":"x","type":"quantitative"},"y":{"field":"lo","type":"quantitative"},"y2":{"field":"hi"}}},
{"data":{"name":"box"},"transform":[{"filter":"datum.p=='C'"}],"mark":{"type":"bar","width":52,"fill":"white","stroke":"black","strokeWidth":2.5},"encoding":{"x":{"field":"x","type":"quantitative"},"y":{"field":"q1","type":"quantitative"},"y2":{"field":"q3"}}},
{"data":{"name":"box"},"transform":[{"filter":"datum.p=='C'"}],"mark":{"type":"tick","orient":"horizontal","size":52,"thickness":2.5,"color":"black","opacity":1},"encoding":{"x":{"field":"x","type":"quantitative"},"y":{"field":"md","type":"quantitative"}}},
{"data":{"name":"box"},"transform":[{"filter":"datum.p=='C'"}],"mark":{"type":"tick","orient":"horizontal","size":13,"thickness":2.5,"color":"black","opacity":1},"encoding":{"x":{"field":"x","type":"quantitative"},"y":{"field":"hi","type":"quantitative"}}},
{"data":{"name":"box"},"transform":[{"filter":"datum.p=='C'"}],"mark":{"type":"tick","orient":"horizontal","size":13,"thickness":2.5,"color":"black","opacity":1},"encoding":{"x":{"field":"x","type":"quantitative"},"y":{"field":"lo","type":"quantitative"}}},
{"data":{"name":"pts"},"transform":[{"filter":"datum.p=='C'"}],"mark":{"type":"point","shape":"circle","filled":true,"size":130,"opacity":1,"fillOpacity":0.5,"strokeWidth":1.5},"encoding":{"x":{"field":"x","type":"quantitative"},"y":{"field":"v","type":"quantitative"},"fill":{"field":"k","type":"nominal","scale":{"domain":["SBiNBi","SmNm","SmNBi","SmNphi","SmNLrov","SmNInc","SmNHA"],"range":["#1cb0e3","#f37b2d","#c4c4c4","#e5a11b","#3564c3","#17a058","#ed2b32"]},"legend":null},"stroke":{"field":"k","type":"nominal","scale":{"domain":["SBiNBi","SmNm","SmNBi","SmNphi","SmNLrov","SmNInc","SmNHA"],"range":["#1cb0e3","#f37b2d","#b0b0b0","#e5a11b","#3564c3","#17a058","#ed2b32"]},"legend":null}}},
{"data":{"name":"box"},"transform":[{"filter":"datum.p=='C'"}],"mark":{"type":"point","shape":"M-1,-1L1,1M-1,1L1,-1","size":150,"filled":false,"color":"black","strokeWidth":2,"opacity":1},"encoding":{"x":{"field":"x","type":"quantitative"},"y":{"field":"mn","type":"quantitative"}}},
{"data":{"name":"br"},"transform":[{"filter":"datum.p=='C'"}],"mark":{"type":"rule","color":"black","strokeWidth":2.5},"encoding":{"x":{"field":"x1","type":"quantitative"},"x2":{"field":"x2"},"y":{"field":"y","type":"quantitative"}}},
{"data":{"name":"br"},"transform":[{"filter":"datum.p=='C'"}],"mark":{"type":"point","shape":"M0,0L0,1","size":100,"filled":false,"color":"black","strokeWidth":2.5,"opacity":1},"encoding":{"x":{"field":"x1","type":"quantitative"},"y":{"field":"y","type":"quantitative"}}},
{"data":{"name":"br"},"transform":[{"filter":"datum.p=='C'"}],"mark":{"type":"point","shape":"M0,0L0,1","size":100,"filled":false,"color":"black","strokeWidth":2.5,"opacity":1},"encoding":{"x":{"field":"x2","type":"quantitative"},"y":{"field":"y","type":"quantitative"}}},
{"data":{"name":"st"},"transform":[{"filter":"datum.p=='C'"}],"mark":{"type":"text","fontSize":20,"color":"#222","align":"center","baseline":"alphabetic"},"encoding":{"x":{"field":"x","type":"quantitative"},"y":{"field":"y","type":"quantitative"},"text":{"field":"t"}}},
{"data":{"name":"pv"},"mark":{"type":"text","fontSize":21,"fontStyle":"italic","color":"#222","align":"right","baseline":"alphabetic","dx":-36},"encoding":{"x":{"field":"x","type":"quantitative"},"y":{"field":"y","type":"quantitative"},"text":{"field":"a"}}},
{"data":{"name":"pv"},"mark":{"type":"text","fontSize":21,"color":"#222","align":"left","baseline":"alphabetic","dx":-34},"encoding":{"x":{"field":"x","type":"quantitative"},"y":{"field":"y","type":"quantitative"},"text":{"field":"b"}}},
{"data":{"name":"labs"},"transform":[{"filter":"datum.p=='C'"}],"mark":{"type":"text","text":"S","fontSize":22,"align":"left","baseline":"alphabetic","color":"#222","dy":41,"dx":{"expr":"-(28.7+(datum.s1=='Bi'?11.5:11.2)+(datum.s2=='Bi'?11.5:datum.s2=='m'?11.2:datum.s2=='φ'?9.8:datum.s2=='Lrov'?26.7:datum.s2=='Inc'?18.2:18.1))/2"}},"encoding":{"x":{"field":"c","type":"quantitative"},"y":{"datum":-22,"type":"quantitative"}}},
{"data":{"name":"labs"},"transform":[{"filter":"datum.p=='C'"}],"mark":{"type":"text","fontSize":13,"align":"left","baseline":"alphabetic","color":"#222","dy":43,"dx":{"expr":"12.1-(28.7+(datum.s1=='Bi'?11.5:11.2)+(datum.s2=='Bi'?11.5:datum.s2=='m'?11.2:datum.s2=='φ'?9.8:datum.s2=='Lrov'?26.7:datum.s2=='Inc'?18.2:18.1))/2"}},"encoding":{"x":{"field":"c","type":"quantitative"},"y":{"datum":-22,"type":"quantitative"},"text":{"field":"s1"}}},
{"data":{"name":"labs"},"transform":[{"filter":"datum.p=='C'"}],"mark":{"type":"text","text":"N","fontSize":22,"align":"left","baseline":"alphabetic","color":"#222","dy":41,"dx":{"expr":"12.1+(datum.s1=='Bi'?11.5:11.2)-(28.7+(datum.s1=='Bi'?11.5:11.2)+(datum.s2=='Bi'?11.5:datum.s2=='m'?11.2:datum.s2=='φ'?9.8:datum.s2=='Lrov'?26.7:datum.s2=='Inc'?18.2:18.1))/2"}},"encoding":{"x":{"field":"c","type":"quantitative"},"y":{"datum":-22,"type":"quantitative"}}},
{"data":{"name":"labs"},"transform":[{"filter":"datum.p=='C'"}],"mark":{"type":"text","fontSize":13,"align":"left","baseline":"alphabetic","color":"#222","dy":43,"dx":{"expr":"28.7+(datum.s1=='Bi'?11.5:11.2)-(28.7+(datum.s1=='Bi'?11.5:11.2)+(datum.s2=='Bi'?11.5:datum.s2=='m'?11.2:datum.s2=='φ'?9.8:datum.s2=='Lrov'?26.7:datum.s2=='Inc'?18.2:18.1))/2"}},"encoding":{"x":{"field":"c","type":"quantitative"},"y":{"datum":-22,"type":"quantitative"},"text":{"field":"s2"}}},
{"data":{"name":"hdr"},"transform":[{"filter":"datum.p=='C'"}],"mark":{"type":"text","fontSize":24,"fontWeight":"bold","align":"left","baseline":"alphabetic","color":"#222"},"encoding":{"x":{"datum":-0.2,"type":"quantitative"},"y":{"datum":1.63,"type":"quantitative"},"text":{"field":"l"}}},
{"data":{"name":"hdr"},"transform":[{"filter":"datum.p=='C'"}],"mark":{"type":"text","fontSize":24,"align":"right","baseline":"alphabetic","color":"#222"},"encoding":{"x":{"datum":3.46,"type":"quantitative"},"y":{"datum":1.63,"type":"quantitative"},"text":{"field":"pre"}}},
{"data":{"name":"hdr"},"transform":[{"filter":"datum.p=='C'"}],"mark":{"type":"text","fontSize":24,"fontStyle":"italic","align":"left","baseline":"alphabetic","color":"#222"},"encoding":{"x":{"datum":3.46,"type":"quantitative"},"y":{"datum":1.63,"type":"quantitative"},"text":{"field":"n"}}},
{"data":{"name":"hdr"},"transform":[{"filter":"datum.p=='C'"}],"mark":{"type":"text","fontSize":24,"align":"left","baseline":"alphabetic","color":"#222","dx":17},"encoding":{"x":{"datum":3.46,"type":"quantitative"},"y":{"datum":1.63,"type":"quantitative"},"text":{"field":"post"}}}
]},
{"width":369,"height":168,"layer":[
{"data":{"name":"one"},"mark":{"type":"rule","color":"black","strokeWidth":2.5,"strokeCap":"square"},"encoding":{"x":{"datum":0.5,"type":"quantitative","scale":{"domain":[0.5,4.5],"nice":false,"zero":false},"axis":{"values":[1.5,2.5,3.5,4.5],"tickCount":30,"labels":false,"domain":false,"grid":false,"tickSize":14,"offset":-7,"tickWidth":2.5,"tickColor":"black","title":"Listening condition","titleFontSize":21,"titleFontWeight":"normal","titleColor":"#222","titleY":86,"titleBaseline":"alphabetic"}},"x2":{"datum":4.5},"y":{"datum":-2,"type":"quantitative","scale":{"domain":[-2,6],"nice":false,"zero":false},"axis":{"values":[-2,-1,0,1,2,3,4,5,6],"tickCount":30,"labelExpr":"datum.value % 2 == 0 ? toString(datum.value) : ''","labelOverlap":false,"domain":false,"grid":false,"tickSize":12,"offset":-7,"tickWidth":2.5,"tickColor":"black","labelFontSize":22,"labelPadding":8,"labelColor":"#222","title":["Binaural","unmasking (dB)"],"titleFontSize":21,"titleFontWeight":"normal","titleColor":"#222","titleX":-92,"titleY":82,"titleAngle":-90,"titleBaseline":"middle","titleAlign":"center","titleLineHeight":28}}}},
{"data":{"name":"one"},"mark":{"type":"rule","color":"black","strokeWidth":2.5,"strokeCap":"square"},"encoding":{"x":{"datum":0.5,"type":"quantitative"},"y":{"datum":-2,"type":"quantitative"},"y2":{"datum":6}}},
{"data":{"name":"one"},"mark":{"type":"rule","color":"black","strokeWidth":2.5,"strokeDash":[7,4]},"encoding":{"x":{"datum":0.5,"type":"quantitative"},"x2":{"datum":4.5},"y":{"datum":0,"type":"quantitative"}}},
{"data":{"name":"bm"},"transform":[{"filter":"datum.p=='D'"}],"mark":{"type":"point","shape":"circle","filled":true,"size":130,"opacity":1,"fillOpacity":0.5,"strokeWidth":1.5},"encoding":{"x":{"field":"x","type":"quantitative"},"y":{"field":"v","type":"quantitative"},"fill":{"field":"k","type":"nominal","scale":{"domain":["SBiNBi","SmNm","SmNBi","SmNphi","SmNLrov","SmNInc","SmNHA"],"range":["#1cb0e3","#f37b2d","#c4c4c4","#e5a11b","#3564c3","#17a058","#ed2b32"]},"legend":null},"stroke":{"field":"k","type":"nominal","scale":{"domain":["SBiNBi","SmNm","SmNBi","SmNphi","SmNLrov","SmNInc","SmNHA"],"range":["#1cb0e3","#f37b2d","#b0b0b0","#e5a11b","#3564c3","#17a058","#ed2b32"]},"legend":null}}},
{"data":{"name":"bm"},"transform":[{"filter":"datum.p=='D'"},{"aggregate":[{"op":"mean","field":"v","as":"m"}],"groupby":["k","c"]}],"mark":{"type":"point","shape":"circle","filled":true,"fill":"white","stroke":"black","strokeWidth":3,"size":240,"opacity":1},"encoding":{"x":{"field":"c","type":"quantitative"},"y":{"field":"m","type":"quantitative"}}},
{"data":{"name":"st"},"transform":[{"filter":"datum.p=='D'"}],"mark":{"type":"text","fontSize":20,"color":"#222","align":"center","baseline":"alphabetic"},"encoding":{"x":{"field":"x","type":"quantitative"},"y":{"field":"y","type":"quantitative"},"text":{"field":"t"}}},
{"data":{"name":"labs"},"transform":[{"filter":"datum.p=='D'"}],"mark":{"type":"text","text":"S","fontSize":22,"align":"left","baseline":"alphabetic","color":"#222","dy":36,"dx":{"expr":"-(28.7+(datum.s1=='Bi'?11.5:11.2)+(datum.s2=='Bi'?11.5:datum.s2=='m'?11.2:datum.s2=='φ'?9.8:datum.s2=='Lrov'?26.7:datum.s2=='Inc'?18.2:18.1))/2"}},"encoding":{"x":{"field":"c","type":"quantitative"},"y":{"datum":-2,"type":"quantitative"}}},
{"data":{"name":"labs"},"transform":[{"filter":"datum.p=='D'"}],"mark":{"type":"text","fontSize":13,"align":"left","baseline":"alphabetic","color":"#222","dy":38,"dx":{"expr":"12.1-(28.7+(datum.s1=='Bi'?11.5:11.2)+(datum.s2=='Bi'?11.5:datum.s2=='m'?11.2:datum.s2=='φ'?9.8:datum.s2=='Lrov'?26.7:datum.s2=='Inc'?18.2:18.1))/2"}},"encoding":{"x":{"field":"c","type":"quantitative"},"y":{"datum":-2,"type":"quantitative"},"text":{"field":"s1"}}},
{"data":{"name":"labs"},"transform":[{"filter":"datum.p=='D'"}],"mark":{"type":"text","text":"N","fontSize":22,"align":"left","baseline":"alphabetic","color":"#222","dy":36,"dx":{"expr":"12.1+(datum.s1=='Bi'?11.5:11.2)-(28.7+(datum.s1=='Bi'?11.5:11.2)+(datum.s2=='Bi'?11.5:datum.s2=='m'?11.2:datum.s2=='φ'?9.8:datum.s2=='Lrov'?26.7:datum.s2=='Inc'?18.2:18.1))/2"}},"encoding":{"x":{"field":"c","type":"quantitative"},"y":{"datum":-2,"type":"quantitative"}}},
{"data":{"name":"labs"},"transform":[{"filter":"datum.p=='D'"}],"mark":{"type":"text","fontSize":13,"align":"left","baseline":"alphabetic","color":"#222","dy":38,"dx":{"expr":"28.7+(datum.s1=='Bi'?11.5:11.2)-(28.7+(datum.s1=='Bi'?11.5:11.2)+(datum.s2=='Bi'?11.5:datum.s2=='m'?11.2:datum.s2=='φ'?9.8:datum.s2=='Lrov'?26.7:datum.s2=='Inc'?18.2:18.1))/2"}},"encoding":{"x":{"field":"c","type":"quantitative"},"y":{"datum":-2,"type":"quantitative"},"text":{"field":"s2"}}},
{"data":{"name":"hdr"},"transform":[{"filter":"datum.p=='D'"}],"mark":{"type":"text","fontSize":24,"fontWeight":"bold","align":"left","baseline":"alphabetic","color":"#222"},"encoding":{"x":{"datum":-0.56,"type":"quantitative"},"y":{"datum":7.62,"type":"quantitative"},"text":{"field":"l"}}}
]},
{"width":284,"height":168,"layer":[
{"data":{"name":"one"},"mark":{"type":"rule","color":"black","strokeWidth":2.5,"strokeCap":"square"},"encoding":{"x":{"datum":0.48,"type":"quantitative","scale":{"domain":[0.48,3.5],"nice":false,"zero":false},"axis":{"values":[1.5,2.5,3.5],"tickCount":30,"labels":false,"domain":false,"grid":false,"tickSize":14,"offset":-7,"tickWidth":2.5,"tickColor":"black","title":"Listening condition","titleFontSize":21,"titleFontWeight":"normal","titleColor":"#222","titleY":86,"titleBaseline":"alphabetic"}},"x2":{"datum":3.5},"y":{"datum":-2,"type":"quantitative","scale":{"domain":[-2,6],"nice":false,"zero":false},"axis":{"values":[-2,-1,0,1,2,3,4,5,6],"tickCount":30,"labelExpr":"datum.value % 2 == 0 ? toString(datum.value) : ''","labelOverlap":false,"domain":false,"grid":false,"tickSize":12,"offset":-7,"tickWidth":2.5,"tickColor":"black","labelFontSize":22,"labelPadding":8,"labelColor":"#222","title":null}}}},
{"data":{"name":"one"},"mark":{"type":"rule","color":"black","strokeWidth":2.5,"strokeCap":"square"},"encoding":{"x":{"datum":0.48,"type":"quantitative"},"y":{"datum":-2,"type":"quantitative"},"y2":{"datum":6}}},
{"data":{"name":"one"},"mark":{"type":"rule","color":"black","strokeWidth":2.5,"strokeDash":[7,4]},"encoding":{"x":{"datum":0.48,"type":"quantitative"},"x2":{"datum":3.5},"y":{"datum":0,"type":"quantitative"}}},
{"data":{"name":"bm"},"transform":[{"filter":"datum.p=='E'"}],"mark":{"type":"point","shape":"circle","filled":true,"size":130,"opacity":1,"fillOpacity":0.5,"strokeWidth":1.5},"encoding":{"x":{"field":"x","type":"quantitative"},"y":{"field":"v","type":"quantitative"},"fill":{"field":"k","type":"nominal","scale":{"domain":["SBiNBi","SmNm","SmNBi","SmNphi","SmNLrov","SmNInc","SmNHA"],"range":["#1cb0e3","#f37b2d","#c4c4c4","#e5a11b","#3564c3","#17a058","#ed2b32"]},"legend":null},"stroke":{"field":"k","type":"nominal","scale":{"domain":["SBiNBi","SmNm","SmNBi","SmNphi","SmNLrov","SmNInc","SmNHA"],"range":["#1cb0e3","#f37b2d","#b0b0b0","#e5a11b","#3564c3","#17a058","#ed2b32"]},"legend":null}}},
{"data":{"name":"bm"},"transform":[{"filter":"datum.p=='E'"},{"aggregate":[{"op":"mean","field":"v","as":"m"}],"groupby":["k","c"]}],"mark":{"type":"point","shape":"circle","filled":true,"fill":"white","stroke":"black","strokeWidth":3,"size":240,"opacity":1},"encoding":{"x":{"field":"c","type":"quantitative"},"y":{"field":"m","type":"quantitative"}}},
{"data":{"name":"st"},"transform":[{"filter":"datum.p=='E'"}],"mark":{"type":"text","fontSize":20,"color":"#222","align":"center","baseline":"alphabetic"},"encoding":{"x":{"field":"x","type":"quantitative"},"y":{"field":"y","type":"quantitative"},"text":{"field":"t"}}},
{"data":{"name":"labs"},"transform":[{"filter":"datum.p=='E'"}],"mark":{"type":"text","text":"S","fontSize":22,"align":"left","baseline":"alphabetic","color":"#222","dy":36,"dx":{"expr":"-(28.7+(datum.s1=='Bi'?11.5:11.2)+(datum.s2=='Bi'?11.5:datum.s2=='m'?11.2:datum.s2=='φ'?9.8:datum.s2=='Lrov'?26.7:datum.s2=='Inc'?18.2:18.1))/2"}},"encoding":{"x":{"field":"c","type":"quantitative"},"y":{"datum":-2,"type":"quantitative"}}},
{"data":{"name":"labs"},"transform":[{"filter":"datum.p=='E'"}],"mark":{"type":"text","fontSize":13,"align":"left","baseline":"alphabetic","color":"#222","dy":38,"dx":{"expr":"12.1-(28.7+(datum.s1=='Bi'?11.5:11.2)+(datum.s2=='Bi'?11.5:datum.s2=='m'?11.2:datum.s2=='φ'?9.8:datum.s2=='Lrov'?26.7:datum.s2=='Inc'?18.2:18.1))/2"}},"encoding":{"x":{"field":"c","type":"quantitative"},"y":{"datum":-2,"type":"quantitative"},"text":{"field":"s1"}}},
{"data":{"name":"labs"},"transform":[{"filter":"datum.p=='E'"}],"mark":{"type":"text","text":"N","fontSize":22,"align":"left","baseline":"alphabetic","color":"#222","dy":36,"dx":{"expr":"12.1+(datum.s1=='Bi'?11.5:11.2)-(28.7+(datum.s1=='Bi'?11.5:11.2)+(datum.s2=='Bi'?11.5:datum.s2=='m'?11.2:datum.s2=='φ'?9.8:datum.s2=='Lrov'?26.7:datum.s2=='Inc'?18.2:18.1))/2"}},"encoding":{"x":{"field":"c","type":"quantitative"},"y":{"datum":-2,"type":"quantitative"}}},
{"data":{"name":"labs"},"transform":[{"filter":"datum.p=='E'"}],"mark":{"type":"text","fontSize":13,"align":"left","baseline":"alphabetic","color":"#222","dy":38,"dx":{"expr":"28.7+(datum.s1=='Bi'?11.5:11.2)-(28.7+(datum.s1=='Bi'?11.5:11.2)+(datum.s2=='Bi'?11.5:datum.s2=='m'?11.2:datum.s2=='φ'?9.8:datum.s2=='Lrov'?26.7:datum.s2=='Inc'?18.2:18.1))/2"}},"encoding":{"x":{"field":"c","type":"quantitative"},"y":{"datum":-2,"type":"quantitative"},"text":{"field":"s2"}}},
{"data":{"name":"hdr"},"transform":[{"filter":"datum.p=='E'"}],"mark":{"type":"text","fontSize":24,"fontWeight":"bold","align":"left","baseline":"alphabetic","color":"#222"},"encoding":{"x":{"datum":0.2,"type":"quantitative"},"y":{"datum":7.62,"type":"quantitative"},"text":{"field":"l"}}}
]},
{"width":259,"height":168,"layer":[
{"data":{"name":"one"},"mark":{"type":"rule","color":"black","strokeWidth":2.5,"strokeCap":"square"},"encoding":{"x":{"datum":0.51,"type":"quantitative","scale":{"domain":[0.51,3.44],"nice":false,"zero":false},"axis":{"values":[1.5,2.5],"tickCount":30,"labels":false,"domain":false,"grid":false,"tickSize":14,"offset":-7,"tickWidth":2.5,"tickColor":"black","title":"Listening condition","titleFontSize":21,"titleFontWeight":"normal","titleColor":"#222","titleY":86,"titleBaseline":"alphabetic"}},"x2":{"datum":3.44},"y":{"datum":-2,"type":"quantitative","scale":{"domain":[-2,6],"nice":false,"zero":false},"axis":{"values":[-2,-1,0,1,2,3,4,5,6],"tickCount":30,"labelExpr":"datum.value % 2 == 0 ? toString(datum.value) : ''","labelOverlap":false,"domain":false,"grid":false,"tickSize":12,"offset":-7,"tickWidth":2.5,"tickColor":"black","labelFontSize":22,"labelPadding":8,"labelColor":"#222","title":null}}}},
{"data":{"name":"one"},"mark":{"type":"rule","color":"black","strokeWidth":2.5,"strokeCap":"square"},"encoding":{"x":{"datum":0.51,"type":"quantitative"},"y":{"datum":-2,"type":"quantitative"},"y2":{"datum":6}}},
{"data":{"name":"one"},"mark":{"type":"rule","color":"black","strokeWidth":2.5,"strokeDash":[7,4]},"encoding":{"x":{"datum":0.51,"type":"quantitative"},"x2":{"datum":3.44},"y":{"datum":0,"type":"quantitative"}}},
{"data":{"name":"bm"},"transform":[{"filter":"datum.p=='F'"}],"mark":{"type":"point","shape":"circle","filled":true,"size":130,"opacity":1,"fillOpacity":0.5,"strokeWidth":1.5},"encoding":{"x":{"field":"x","type":"quantitative"},"y":{"field":"v","type":"quantitative"},"fill":{"field":"k","type":"nominal","scale":{"domain":["SBiNBi","SmNm","SmNBi","SmNphi","SmNLrov","SmNInc","SmNHA"],"range":["#1cb0e3","#f37b2d","#c4c4c4","#e5a11b","#3564c3","#17a058","#ed2b32"]},"legend":null},"stroke":{"field":"k","type":"nominal","scale":{"domain":["SBiNBi","SmNm","SmNBi","SmNphi","SmNLrov","SmNInc","SmNHA"],"range":["#1cb0e3","#f37b2d","#b0b0b0","#e5a11b","#3564c3","#17a058","#ed2b32"]},"legend":null}}},
{"data":{"name":"bm"},"transform":[{"filter":"datum.p=='F'"},{"aggregate":[{"op":"mean","field":"v","as":"m"}],"groupby":["k","c"]}],"mark":{"type":"point","shape":"circle","filled":true,"fill":"white","stroke":"black","strokeWidth":3,"size":240,"opacity":1},"encoding":{"x":{"field":"c","type":"quantitative"},"y":{"field":"m","type":"quantitative"}}},
{"data":{"name":"br"},"transform":[{"filter":"datum.p=='F'"}],"mark":{"type":"rule","color":"black","strokeWidth":2.5},"encoding":{"x":{"field":"x1","type":"quantitative"},"x2":{"field":"x2"},"y":{"field":"y","type":"quantitative"}}},
{"data":{"name":"br"},"transform":[{"filter":"datum.p=='F'"}],"mark":{"type":"point","shape":"M0,0L0,1","size":100,"filled":false,"color":"black","strokeWidth":2.5,"opacity":1},"encoding":{"x":{"field":"x1","type":"quantitative"},"y":{"field":"y","type":"quantitative"}}},
{"data":{"name":"br"},"transform":[{"filter":"datum.p=='F'"}],"mark":{"type":"point","shape":"M0,0L0,1","size":100,"filled":false,"color":"black","strokeWidth":2.5,"opacity":1},"encoding":{"x":{"field":"x2","type":"quantitative"},"y":{"field":"y","type":"quantitative"}}},
{"data":{"name":"st"},"transform":[{"filter":"datum.p=='F'"}],"mark":{"type":"text","fontSize":20,"color":"#222","align":"center","baseline":"alphabetic"},"encoding":{"x":{"field":"x","type":"quantitative"},"y":{"field":"y","type":"quantitative"},"text":{"field":"t"}}},
{"data":{"name":"labs"},"transform":[{"filter":"datum.p=='F'"}],"mark":{"type":"text","text":"S","fontSize":22,"align":"left","baseline":"alphabetic","color":"#222","dy":36,"dx":{"expr":"-(28.7+(datum.s1=='Bi'?11.5:11.2)+(datum.s2=='Bi'?11.5:datum.s2=='m'?11.2:datum.s2=='φ'?9.8:datum.s2=='Lrov'?26.7:datum.s2=='Inc'?18.2:18.1))/2"}},"encoding":{"x":{"field":"c","type":"quantitative"},"y":{"datum":-2,"type":"quantitative"}}},
{"data":{"name":"labs"},"transform":[{"filter":"datum.p=='F'"}],"mark":{"type":"text","fontSize":13,"align":"left","baseline":"alphabetic","color":"#222","dy":38,"dx":{"expr":"12.1-(28.7+(datum.s1=='Bi'?11.5:11.2)+(datum.s2=='Bi'?11.5:datum.s2=='m'?11.2:datum.s2=='φ'?9.8:datum.s2=='Lrov'?26.7:datum.s2=='Inc'?18.2:18.1))/2"}},"encoding":{"x":{"field":"c","type":"quantitative"},"y":{"datum":-2,"type":"quantitative"},"text":{"field":"s1"}}},
{"data":{"name":"labs"},"transform":[{"filter":"datum.p=='F'"}],"mark":{"type":"text","text":"N","fontSize":22,"align":"left","baseline":"alphabetic","color":"#222","dy":36,"dx":{"expr":"12.1+(datum.s1=='Bi'?11.5:11.2)-(28.7+(datum.s1=='Bi'?11.5:11.2)+(datum.s2=='Bi'?11.5:datum.s2=='m'?11.2:datum.s2=='φ'?9.8:datum.s2=='Lrov'?26.7:datum.s2=='Inc'?18.2:18.1))/2"}},"encoding":{"x":{"field":"c","type":"quantitative"},"y":{"datum":-2,"type":"quantitative"}}},
{"data":{"name":"labs"},"transform":[{"filter":"datum.p=='F'"}],"mark":{"type":"text","fontSize":13,"align":"left","baseline":"alphabetic","color":"#222","dy":38,"dx":{"expr":"28.7+(datum.s1=='Bi'?11.5:11.2)-(28.7+(datum.s1=='Bi'?11.5:11.2)+(datum.s2=='Bi'?11.5:datum.s2=='m'?11.2:datum.s2=='φ'?9.8:datum.s2=='Lrov'?26.7:datum.s2=='Inc'?18.2:18.1))/2"}},"encoding":{"x":{"field":"c","type":"quantitative"},"y":{"datum":-2,"type":"quantitative"},"text":{"field":"s2"}}},
{"data":{"name":"hdr"},"transform":[{"filter":"datum.p=='F'"}],"mark":{"type":"text","fontSize":24,"fontWeight":"bold","align":"left","baseline":"alphabetic","color":"#222"},"encoding":{"x":{"datum":0.15,"type":"quantitative"},"y":{"datum":7.62,"type":"quantitative"},"text":{"field":"l"}}}
]}
]
}
